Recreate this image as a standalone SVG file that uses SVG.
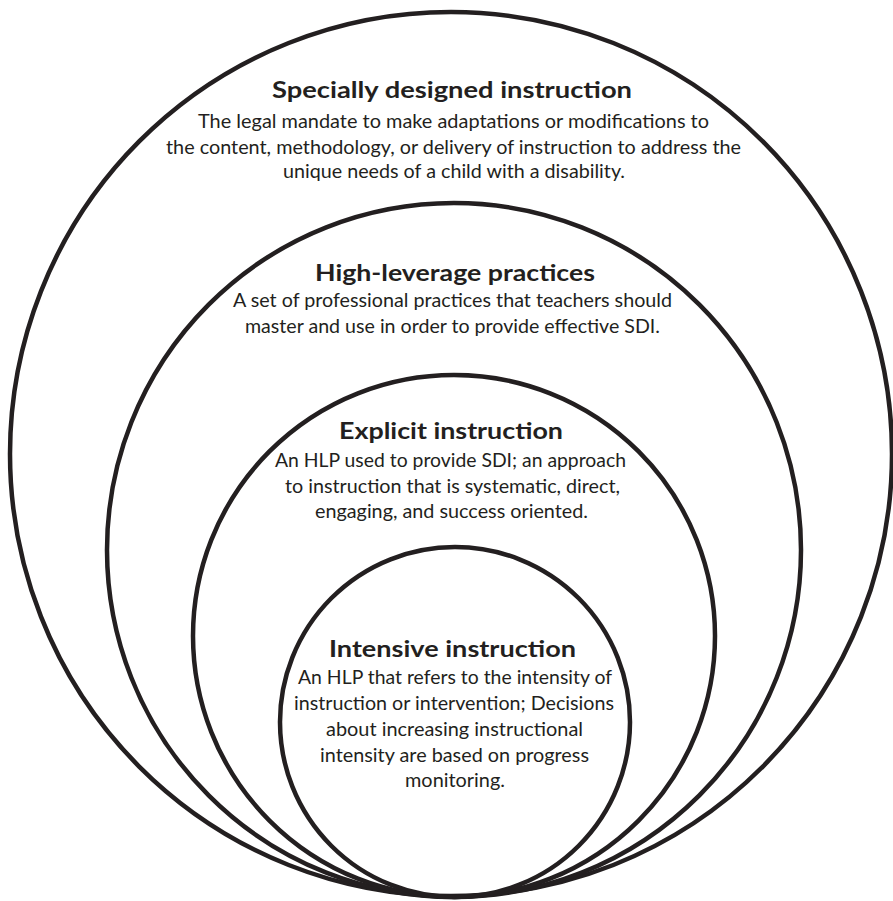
<svg xmlns="http://www.w3.org/2000/svg" width="893" height="901" viewBox="0 0 893 901">
<style>
.ring{fill:none;stroke:#231f20;stroke-width:4.5}
.t{font-family:Lato,"Open Sans","Liberation Sans",sans-serif;font-weight:700;font-size:23.5px;fill:#231f20;text-anchor:middle}
.b{font-family:Lato,"Open Sans","Liberation Sans",sans-serif;font-size:20px;fill:#231f20;text-anchor:middle}
</style>
<rect width="893" height="901" fill="#ffffff"/>
<g id="sdi">
<ellipse class="ring" cx="451" cy="454" rx="441" ry="442"/>
<text class="t" x="452" y="98" textLength="360" lengthAdjust="spacingAndGlyphs">Specially designed instruction</text>
<text class="b" x="453.5" y="128" textLength="511" lengthAdjust="spacingAndGlyphs">The legal mandate to make adaptations or modifications to</text>
<text class="b" x="453.5" y="154" textLength="575" lengthAdjust="spacingAndGlyphs">the content, methodology, or delivery of instruction to address the</text>
<text class="b" x="454" y="178" textLength="342" lengthAdjust="spacingAndGlyphs">unique needs of a child with a disability.</text>
</g>
<g id="hlp">
<circle class="ring" cx="454" cy="550" r="347"/>
<text class="t" x="455" y="281" textLength="280" lengthAdjust="spacingAndGlyphs">High-leverage practices</text>
<text class="b" x="452.5" y="307" textLength="439" lengthAdjust="spacingAndGlyphs">A set of professional practices that teachers should</text>
<text class="b" x="452.5" y="333" textLength="415" lengthAdjust="spacingAndGlyphs">master and use in order to provide effective SDI.</text>
</g>
<g id="explicit">
<circle class="ring" cx="454" cy="636" r="261"/>
<text class="t" x="451" y="439" textLength="224" lengthAdjust="spacingAndGlyphs">Explicit instruction</text>
<text class="b" x="450.5" y="467" textLength="351" lengthAdjust="spacingAndGlyphs">An HLP used to provide SDI; an approach</text>
<text class="b" x="452.5" y="493" textLength="335" lengthAdjust="spacingAndGlyphs">to instruction that is systematic, direct,</text>
<text class="b" x="451.5" y="518" textLength="273" lengthAdjust="spacingAndGlyphs">engaging, and success oriented.</text>
</g>
<g id="intensive">
<circle class="ring" cx="455" cy="722" r="175"/>
<text class="t" x="452.5" y="657" textLength="247" lengthAdjust="spacingAndGlyphs">Intensive instruction</text>
<text class="b" x="455" y="684" textLength="314" lengthAdjust="spacingAndGlyphs">An HLP that refers to the intensity of</text>
<text class="b" x="454" y="710" textLength="320" lengthAdjust="spacingAndGlyphs">instruction or intervention; Decisions</text>
<text class="b" x="454.5" y="736" textLength="257" lengthAdjust="spacingAndGlyphs">about increasing instructional</text>
<text class="b" x="454.5" y="762" textLength="269" lengthAdjust="spacingAndGlyphs">intensity are based on progress</text>
<text class="b" x="455" y="787" textLength="100" lengthAdjust="spacingAndGlyphs">monitoring.</text>
</g>
<g id="connectors"/>
</svg>
